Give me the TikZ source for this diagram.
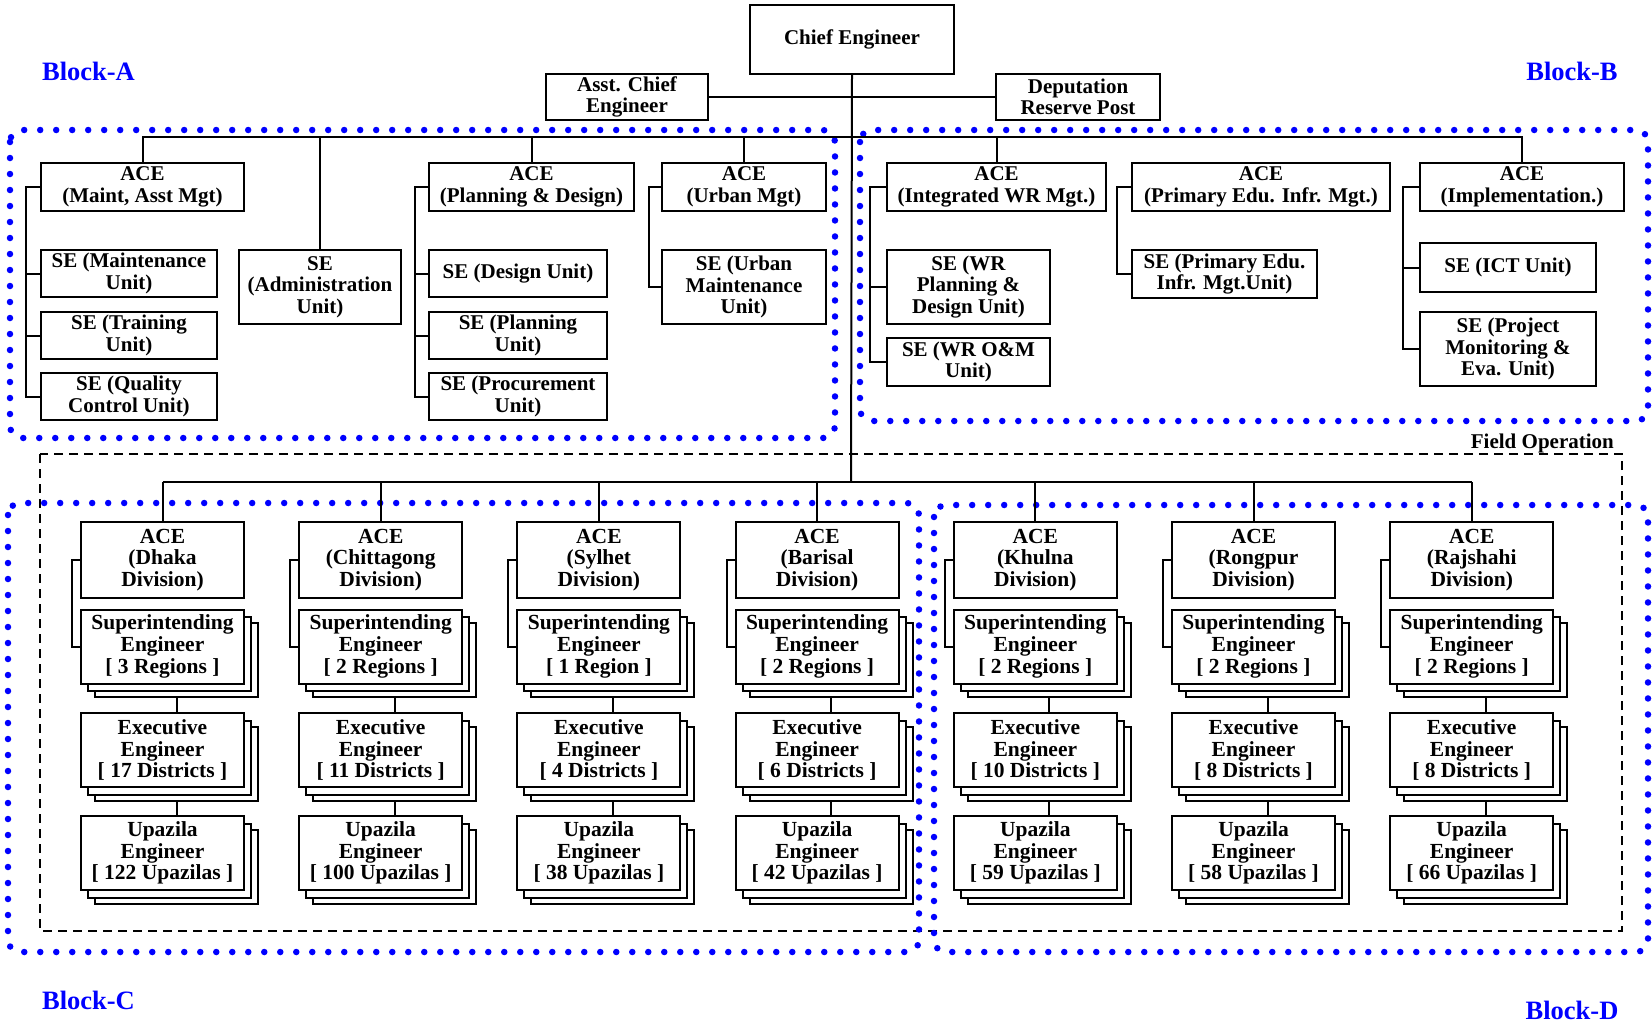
\documentclass[tikz,border=0pt]{standalone}
\usepackage{fontspec}
\setmainfont{Liberation Serif}
\definecolor{bdot}{RGB}{0,0,255}
\newcommand\fstack[4]{%
  \node[fbox, minimum height=74pt] (#1-c) at (#2+14,#3+13.5) {};
  \node[fbox, minimum height=74pt] (#1-b) at (#2+7,#3+7.5) {};
  \node[fbox, minimum height=74pt] (#1) at (#2,#3) {#4};
}
\begin{document}
\begin{tikzpicture}[x=1pt,y=-1pt,
  tbox/.style={draw, line width=2pt, fill=white, inner sep=0pt, align=center, anchor=north west,
    font=\fontsize{21}{21.5}\selectfont\bfseries},
  fbox/.style={draw, line width=2pt, fill=white, inner sep=0pt, align=center, minimum width=163pt,
    font=\fontsize{21.5}{21.7}\selectfont\bfseries},
  conn/.style={draw, line width=2pt},
  bluedots/.style={draw=bdot, line width=6.5pt, line cap=round, dash pattern=on 0pt off 16pt, rounded corners=12pt},
  fielddash/.style={draw, line width=1.8pt, dash pattern=on 9pt off 6pt},
  blocklbl/.style={text=bdot, inner sep=0pt, font=\fontsize{26.5}{28}\selectfont\bfseries},
  fieldlbl/.style={inner sep=0pt, font=\fontsize{21}{22}\selectfont\bfseries}
]
\useasboundingbox (0,0) rectangle (1652,1025);

% ---------- frames ----------
\draw[fielddash] (40,454) rectangle (1622,931);
\draw[bluedots] (10,130) rectangle (835,438);
\draw[bluedots] (860,130) rectangle (1648,421);
\draw[bluedots] (8,503) rectangle (919,952);
\draw[bluedots] (934,505) rectangle (1648,952);

% ---------- labels ----------
\node[blocklbl] (blA) at (88.5,71) {Block-A};
\node[blocklbl] (blB) at (1572,71) {Block-B};
\node[blocklbl] (blC) at (88.5,1000) {Block-C};
\node[blocklbl] (blD) at (1572,1010) {Block-D};
\node[fieldlbl, anchor=base east] (fop) at (1614,448) {Field Operation};

% ---------- top ----------
\node[tbox, minimum width=204pt, minimum height=69pt] (chief) at (749,4) {Chief Engineer};
\node[tbox, minimum width=162pt, minimum height=46pt] (asst) at (545,73) {Asst. Chief\\Engineer};
\node[tbox, minimum width=164pt, minimum height=46pt] (dep) at (995,73) {Deputation\\Reserve Post};

% Block A
\node[tbox, minimum width=203pt, minimum height=48pt] (aceMaint) at (40,162) {ACE\\(Maint, Asst Mgt)};
\node[tbox, minimum width=176pt, minimum height=47pt] (seMaint) at (40,249) {SE (Maintenance\\Unit)};
\node[tbox, minimum width=176pt, minimum height=47pt] (seTrain) at (40,311) {SE (Training\\Unit)};
\node[tbox, minimum width=176pt, minimum height=47pt] (seQual) at (40,372) {SE (Quality\\Control Unit)};
\node[tbox, minimum width=162pt, minimum height=74pt] (seAdmin) at (238,249) {SE\\(Administration\\Unit)};
\node[tbox, minimum width=205pt, minimum height=48pt] (acePD) at (428,162) {ACE\\(Planning \& Design)};
\node[tbox, minimum width=178pt, minimum height=47pt] (seDesign) at (428,249) {SE (Design Unit)};
\node[tbox, minimum width=178pt, minimum height=47pt] (sePlan) at (428,311) {SE (Planning\\Unit)};
\node[tbox, minimum width=178pt, minimum height=47pt] (seProc) at (428,372) {SE (Procurement\\Unit)};
\node[tbox, minimum width=164pt, minimum height=48pt] (aceUrban) at (661,162) {ACE\\(Urban Mgt)};
\node[tbox, minimum width=164pt, minimum height=74pt] (seUrban) at (661,249) {SE (Urban\\Maintenance\\Unit)};

% Block B
\node[tbox, minimum width=219pt, minimum height=48pt] (aceIWR) at (886,162) {ACE\\(Integrated WR Mgt.)};
\node[tbox, minimum width=163pt, minimum height=74pt] (seWRPD) at (886,249) {SE (WR\\Planning \&\\Design Unit)};
\node[tbox, minimum width=163pt, minimum height=48pt] (seWROM) at (886,337) {SE (WR O\&M\\Unit)};
\node[tbox, minimum width=258pt, minimum height=48pt] (acePE) at (1131,162) {ACE\\(Primary Edu. Infr. Mgt.)};
\node[tbox, minimum width=185pt, minimum height=48pt] (sePE) at (1131,249) {SE (Primary Edu.\\Infr. Mgt.Unit)};
\node[tbox, minimum width=204pt, minimum height=48pt] (aceImp) at (1419,162) {ACE\\(Implementation.)};
\node[tbox, minimum width=176pt, minimum height=49pt] (seICT) at (1419,242) {SE (ICT Unit)};
\node[tbox, minimum width=176pt, minimum height=74pt] (sePM) at (1419,311) {SE (Project\\Monitoring \&\\Eva. Unit)};

% top connectors
\coordinate (bj) at (851,137);
\coordinate (fj) at (851,482);
\draw[conn] (chief.south) -- (fj);
\draw[conn] (asst.east) -- (asst.east -| chief.south);
\draw[conn] (dep.west) -- (dep.west -| chief.south);
\draw[conn] (aceMaint.north) |- (bj) -| (aceImp.north);
\draw[conn] (seAdmin.north) -- (seAdmin.north |- bj);
\draw[conn] (acePD.north) -- (acePD.north |- bj);
\draw[conn] (aceUrban.north) -- (aceUrban.north |- bj);
\draw[conn] (aceIWR.north) -- (aceIWR.north |- bj);

% brackets
\draw[conn] (aceMaint.west) -- ++(-14,0) |- (seQual.west);
\draw[conn] (seMaint.west) -- ++(-14,0);
\draw[conn] (seTrain.west) -- ++(-14,0);
\draw[conn] (acePD.west) -- ++(-13,0) |- (seProc.west);
\draw[conn] (seDesign.west) -- ++(-13,0);
\draw[conn] (sePlan.west) -- ++(-13,0);
\draw[conn] (aceUrban.west) -- ++(-12,0) |- (seUrban.west);
\draw[conn] (aceIWR.west) -- ++(-16,0) |- (seWROM.west);
\draw[conn] (seWRPD.west) -- ++(-16,0);
\draw[conn] (acePE.west) -- ++(-14,0) |- (sePE.west);
\draw[conn] (aceImp.west) -- ++(-16,0) |- (sePM.west);
\draw[conn] (seICT.west) -- ++(-16,0);

% ---------- field operation ----------
\foreach \i/\nm/\dv/\rg/\ds/\up in {0/dh/Dhaka/3 Regions/17 Districts/122 Upazilas,%
1/ch/Chittagong/2 Regions/11 Districts/100 Upazilas,%
2/sy/Sylhet/1 Region/4 Districts/38 Upazilas,%
3/ba/Barisal/2 Regions/6 Districts/42 Upazilas,%
4/kh/Khulna/2 Regions/10 Districts/59 Upazilas,%
5/ro/Rongpur/2 Regions/8 Districts/58 Upazilas,%
6/ra/Rajshahi/2 Regions/8 Districts/66 Upazilas}{
  \pgfmathsetmacro\cx{162.5+218.2*\i}
  \node[fbox, minimum height=76pt] (ace\nm) at (\cx,560) {ACE\\(\dv\\Division)};
  \fstack{se\nm}{\cx}{646.5}{Superintending\\Engineer\\{[} \rg\ {]}}
  \fstack{ee\nm}{\cx}{750}{Executive\\Engineer\\{[} \ds\ {]}}
  \fstack{ue\nm}{\cx}{853}{Upazila\\Engineer\\{[} \up\ {]}}
  \draw[conn] (ace\nm.north) -- (ace\nm.north |- fj);
  \draw[conn] (ace\nm.west) -- ++(-8,0) |- (se\nm.west);
  \draw[conn] (se\nm-c.south) -- (se\nm-c.south |- ee\nm.north);
  \draw[conn] (ee\nm-c.south) -- (ee\nm-c.south |- ue\nm.north);
}
\draw[conn] (acedh.north |- fj) -- (acera.north |- fj);
\end{tikzpicture}
\end{document}
